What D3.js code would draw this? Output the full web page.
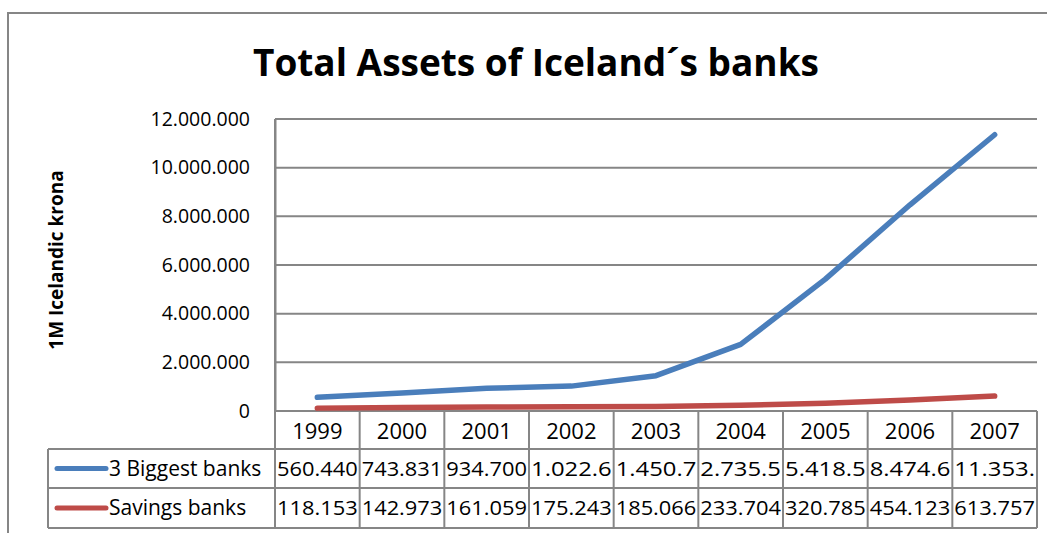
<!DOCTYPE html>
<html>
<head>
<meta charset="utf-8">
<script src="https://cdn.jsdelivr.net/npm/d3@7"></script>
<style>
  html, body { margin: 0; padding: 0; background: #fff; }
  svg { display: block; }
  text { font-family: "Open Sans", "Noto Sans", sans-serif; fill: #000; }
</style>
</head>
<body>
<svg id="chart" width="1047" height="533"></svg>
<script>
// ---- data ----
const years = ["1999", "2000", "2001", "2002", "2003", "2004", "2005", "2006", "2007"];
const biggestBanks = [560440, 743831, 934700, 1022600, 1450700, 2735500, 5418500, 8474600, 11353000];
const savingsBanks = [118153, 142973, 161059, 175243, 185066, 233704, 320785, 454123, 613757];
const seriesNames = ["3 Biggest banks", "Savings banks"];
const yTicks = [0, 2000000, 4000000, 6000000, 8000000, 10000000, 12000000];
const titleText = "Total Assets of Iceland\u00B4s banks";
const yAxisTitle = "1M Icelandic krona";

const colors = ["#4a7ebb", "#be4b48"];
const grid = "#868686";

const svg = d3.select("#chart");
const W = 1047, H = 533;
const plot = { left: 275, right: 1037, top: 119, bottom: 411 };

// outer frame
svg.append("path")
  .attr("d", `M8,${H} L8,13 L${W},13`)
  .attr("fill", "none").attr("stroke", grid).attr("stroke-width", 2);

// title
svg.append("text")
  .attr("x", 536).attr("y", 76)
  .attr("text-anchor", "middle")
  .attr("font-size", 37).attr("font-weight", "bold")
  .text(titleText);

// scales
const x = d3.scaleBand().domain(years).range([plot.left, plot.right]);
const y = d3.scaleLinear().domain([0, 12000000]).range([plot.bottom, plot.top]);

// gridlines
svg.append("g").selectAll("line").data(yTicks).join("line")
  .attr("x1", plot.left).attr("x2", plot.right)
  .attr("y1", d => y(d)).attr("y2", d => y(d))
  .attr("stroke", grid).attr("stroke-width", 2);

// y axis
const yAxis = d3.axisLeft(y).tickValues(yTicks).tickSize(0).tickPadding(25)
  .tickFormat(d => d3.format(",")(d).replace(/,/g, "."));
const ga = svg.append("g").attr("transform", `translate(${plot.left},0)`).call(yAxis);
ga.select(".domain").attr("stroke", grid).attr("stroke-width", 2);
ga.selectAll("text").attr("font-size", 19.5).attr("font-family", "Open Sans").attr("fill", "#000");
svg.append("line").attr("x1", plot.left).attr("x2", plot.left)
  .attr("y1", plot.top).attr("y2", 528).attr("stroke", grid).attr("stroke-width", 2);

// y axis title
svg.append("text")
  .attr("transform", `translate(63,260) rotate(-90)`)
  .attr("text-anchor", "middle")
  .attr("font-size", 19).attr("font-weight", "bold")
  .text(yAxisTitle);

// lines
const line = d3.line().x((d, i) => x(years[i]) + x.bandwidth() / 2).y(d => y(d));
[biggestBanks, savingsBanks].forEach((s, k) => {
  svg.append("path").datum(s)
    .attr("d", line)
    .attr("fill", "none").attr("stroke", colors[k])
    .attr("stroke-width", 5.5).attr("stroke-linecap", "round").attr("stroke-linejoin", "round");
});

// data table
const rowY = [411, 449, 488, 528];
const tbl = svg.append("g");
[1, 2, 3].forEach(r => {
  tbl.append("line").attr("x1", 48).attr("x2", plot.right).attr("y1", rowY[r]).attr("y2", rowY[r])
    .attr("stroke", grid).attr("stroke-width", 2);
});
tbl.selectAll("line.v").data(years.slice(1)).join("line").attr("class", "v")
  .attr("x1", d => x(d)).attr("x2", d => x(d)).attr("y1", rowY[0]).attr("y2", rowY[3])
  .attr("stroke", grid).attr("stroke-width", 2);
tbl.append("line").attr("x1", plot.right).attr("x2", plot.right).attr("y1", rowY[0]).attr("y2", rowY[3])
  .attr("stroke", grid).attr("stroke-width", 2);
tbl.append("line").attr("x1", 48).attr("x2", 48).attr("y1", rowY[1]).attr("y2", rowY[3])
  .attr("stroke", grid).attr("stroke-width", 2);

// year header
tbl.selectAll("text.yr").data(years).join("text").attr("class", "yr")
  .attr("x", d => x(d) + x.bandwidth() / 2).attr("y", 439)
  .attr("text-anchor", "middle").attr("font-size", 22)
  .text(d => d);

// legend keys
seriesNames.forEach((n, k) => {
  const cy = (rowY[k + 1] + rowY[k + 2]) / 2;
  tbl.append("line").attr("x1", 57).attr("x2", 106).attr("y1", cy).attr("y2", cy)
    .attr("stroke", colors[k]).attr("stroke-width", 5).attr("stroke-linecap", "round");
  tbl.append("text").attr("x", 109).attr("y", cy + 7).attr("font-size", 21).text(n);
});

// values (Excel truncates to cell width)
const fmt = v => d3.format(",")(v).replace(/,/g, ".").slice(0, 7);
[biggestBanks, savingsBanks].forEach((s, k) => {
  const cy = (rowY[k + 1] + rowY[k + 2]) / 2;
  tbl.selectAll(null).data(s).join("text")
    .attr("x", (d, i) => x(years[i]) + 2).attr("y", cy + 7)
    .attr("font-size", 20.5)
    .attr("textLength", x.bandwidth() - 4)
    .attr("lengthAdjust", "spacingAndGlyphs")
    .text(d => fmt(d));
});
</script>
</body>
</html>
